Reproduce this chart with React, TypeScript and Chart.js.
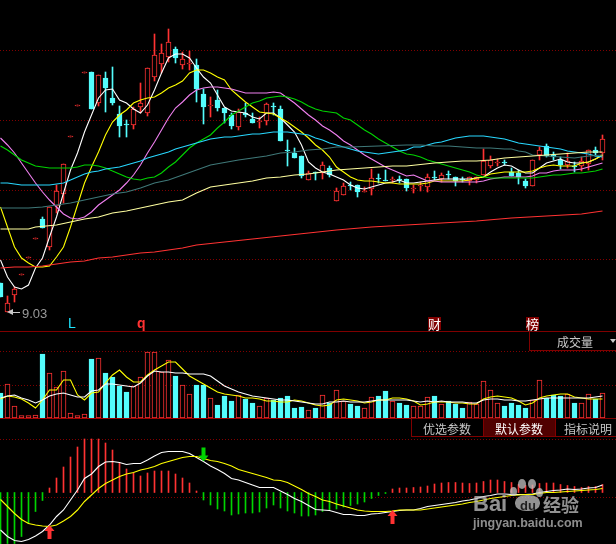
import React, { useEffect, useRef } from "react";
import { Chart, registerables } from "chart.js";
Chart.register(...registerables);

// Candles (price)
const open = [9.32,9.03,9.20,9.40,9.57,9.76,9.96,9.68,10.09,10.21,10.78,11.09,11.42,11.43,11.12,11.37,11.17,11.01,10.91,10.90,11.08,11.02,11.38,11.51,11.58,11.66,11.50,11.51,11.50,11.21,11.09,11.15,11.07,11.00,10.88,11.02,10.96,10.93,10.94,11.09,11.06,10.65,10.62,10.59,10.35,10.43,10.42,10.47,10.14,10.20,10.30,10.30,10.23,10.26,10.37,10.35,10.35,10.36,10.36,10.26,10.29,10.28,10.38,10.36,10.41,10.38,10.36,10.34,10.35,10.40,10.49,10.52,10.53,10.43,10.42,10.34,10.29,10.60,10.69,10.60,10.55,10.50,10.49,10.49,10.51,10.65,10.62];
const close = [9.18,9.12,9.26,9.41,9.58,9.77,9.87,10.08,10.24,10.51,10.79,11.10,11.43,11.06,11.40,11.27,11.12,10.89,10.90,11.06,11.12,11.47,11.60,11.62,11.73,11.57,11.56,11.52,11.26,11.08,11.10,11.07,11.02,10.89,11.03,11.00,10.92,10.94,11.11,11.08,10.74,10.64,10.57,10.39,10.42,10.42,10.50,10.40,10.24,10.29,10.29,10.23,10.24,10.37,10.36,10.34,10.36,10.35,10.27,10.27,10.30,10.38,10.37,10.40,10.40,10.34,10.35,10.38,10.38,10.54,10.55,10.53,10.52,10.39,10.38,10.29,10.55,10.65,10.59,10.58,10.50,10.54,10.48,10.54,10.65,10.62,10.76];
const high = [9.32,9.19,9.28,9.41,9.58,9.77,9.98,10.08,10.30,10.51,10.79,11.10,11.43,11.43,11.40,11.43,11.48,11.09,10.95,11.08,11.32,11.47,11.81,11.71,11.86,11.68,11.63,11.64,11.56,11.26,11.18,11.25,11.07,11.02,11.06,11.12,11.02,10.98,11.12,11.12,11.09,10.75,10.67,10.59,10.44,10.43,10.53,10.49,10.27,10.32,10.33,10.30,10.28,10.46,10.41,10.45,10.38,10.39,10.36,10.30,10.33,10.41,10.44,10.42,10.44,10.38,10.38,10.38,10.38,10.66,10.59,10.56,10.55,10.47,10.45,10.36,10.55,10.68,10.71,10.63,10.58,10.62,10.53,10.58,10.65,10.68,10.80];
const low = [9.18,9.03,9.13,9.40,9.57,9.76,9.87,9.65,10.02,10.12,10.78,11.09,11.42,11.06,11.09,11.03,11.10,10.78,10.78,10.86,11.02,10.99,11.34,11.42,11.53,11.52,11.46,11.45,11.13,10.91,10.98,11.04,10.92,10.86,10.85,10.98,10.92,10.87,10.90,11.00,10.74,10.49,10.57,10.37,10.35,10.35,10.36,10.38,10.14,10.20,10.25,10.18,10.23,10.20,10.32,10.34,10.32,10.32,10.24,10.22,10.24,10.23,10.35,10.33,10.36,10.29,10.33,10.30,10.32,10.40,10.47,10.49,10.50,10.39,10.31,10.27,10.29,10.55,10.58,10.55,10.46,10.47,10.43,10.44,10.45,10.59,10.55];

// Price moving averages
const maWhite = [9.55,9.38,9.28,9.26,9.30,9.47,9.57,9.78,9.98,10.22,10.45,10.62,10.83,11.00,11.17,11.25,11.26,11.15,11.12,11.06,11.02,11.10,11.25,11.42,11.57,11.61,11.61,11.57,11.47,11.38,11.32,11.20,11.08,11.04,11.03,11.02,10.98,10.96,11.02,11.02,10.97,10.90,10.83,10.70,10.53,10.47,10.43,10.41,10.38,10.35,10.30,10.27,10.26,10.28,10.30,10.32,10.33,10.35,10.32,10.32,10.33,10.34,10.35,10.36,10.36,10.36,10.36,10.36,10.37,10.38,10.43,10.47,10.50,10.49,10.45,10.42,10.42,10.47,10.52,10.54,10.56,10.53,10.52,10.52,10.53,10.56,10.60];
const maYellow = [10.08,9.88,9.68,9.57,9.52,9.48,9.48,9.49,9.58,9.68,9.88,10.10,10.32,10.48,10.63,10.80,10.93,11.00,11.05,11.12,11.15,11.17,11.18,11.22,11.27,11.30,11.34,11.42,11.45,11.45,11.42,11.38,11.35,11.25,11.19,11.13,11.08,11.03,11.02,11.01,10.97,10.93,10.88,10.83,10.77,10.70,10.65,10.58,10.48,10.43,10.38,10.35,10.34,10.34,10.33,10.32,10.32,10.31,10.31,10.31,10.31,10.32,10.34,10.34,10.34,10.34,10.34,10.35,10.37,10.38,10.41,10.42,10.43,10.43,10.43,10.43,10.44,10.47,10.49,10.50,10.49,10.49,10.49,10.52,10.53,10.56,10.60];
const maMagenta = [10.77,10.70,10.62,10.52,10.42,10.32,10.23,10.15,10.08,10.01,9.97,9.96,9.98,10.03,10.10,10.15,10.20,10.25,10.32,10.40,10.50,10.62,10.73,10.85,10.97,11.07,11.13,11.20,11.25,11.27,11.28,11.28,11.27,11.26,11.24,11.22,11.22,11.22,11.22,11.23,11.22,11.17,11.12,11.06,11.00,10.95,10.89,10.85,10.80,10.74,10.70,10.65,10.60,10.56,10.52,10.48,10.45,10.42,10.39,10.40,10.37,10.34,10.34,10.33,10.33,10.33,10.33,10.33,10.33,10.34,10.36,10.37,10.38,10.38,10.38,10.38,10.39,10.42,10.42,10.44,10.45,10.45,10.45,10.46,10.48,10.50,10.52];
const maGreen = [10.69,10.65,10.60,10.55,10.52,10.49,10.48,10.47,10.47,10.47,10.47,10.48,10.50,10.50,10.49,10.47,10.44,10.41,10.38,10.36,10.35,10.37,10.38,10.42,10.48,10.53,10.60,10.67,10.72,10.76,10.80,10.87,10.93,11.00,11.04,11.08,11.12,11.14,11.17,11.18,11.19,11.18,11.16,11.13,11.09,11.06,11.04,11.03,11.02,10.97,10.95,10.90,10.85,10.81,10.76,10.72,10.68,10.64,10.61,10.60,10.58,10.55,10.53,10.51,10.49,10.47,10.45,10.43,10.40,10.38,10.37,10.37,10.37,10.37,10.37,10.37,10.37,10.38,10.39,10.40,10.40,10.41,10.42,10.42,10.43,10.44,10.46];
const maCyan = [10.32,10.32,10.31,10.30,10.30,10.30,10.30,10.30,10.31,10.32,10.35,10.38,10.41,10.43,10.44,10.46,10.47,10.48,10.50,10.52,10.54,10.57,10.59,10.61,10.63,10.66,10.68,10.70,10.72,10.74,10.76,10.77,10.78,10.78,10.79,10.80,10.81,10.81,10.82,10.83,10.83,10.83,10.82,10.81,10.80,10.77,10.75,10.72,10.70,10.68,10.66,10.64,10.63,10.62,10.61,10.62,10.63,10.64,10.65,10.68,10.68,10.70,10.72,10.73,10.75,10.77,10.78,10.79,10.79,10.79,10.78,10.77,10.76,10.74,10.72,10.71,10.70,10.69,10.68,10.67,10.66,10.64,10.63,10.62,10.61,10.59,10.58];
const tealIdx = [0,2,4,6,8,10,12,14,16,18,20,22,24,26,28,30,34,38,40,42,44,46,48,50,54,58,60,62,64,66,68,70,72,73,74,75,76,78,80,82,84,86];
const maTeal = [10.07,10.07,10.07,10.08,10.10,10.12,10.15,10.18,10.21,10.23,10.27,10.32,10.35,10.40,10.45,10.50,10.55,10.59,10.62,10.63,10.65,10.66,10.68,10.68,10.69,10.70,10.70,10.69,10.69,10.68,10.67,10.67,10.66,10.66,10.64,10.63,10.60,10.59,10.58,10.57,10.59,10.60];
const paleIdx = [0,4,5,8,10,12,14,16,18,20,22,24,26,28,30,32,34,36,38,40,42,44,46,48,50,52,54,56,58,62,64,66,68,70,72,74,76,78,80,82,84,86];
const maPale = [9.86,9.86,9.88,9.90,9.93,9.96,9.98,10.02,10.04,10.07,10.10,10.13,10.15,10.22,10.28,10.30,10.32,10.34,10.37,10.38,10.40,10.41,10.43,10.45,10.46,10.47,10.48,10.49,10.49,10.52,10.53,10.54,10.54,10.55,10.57,10.58,10.59,10.60,10.61,10.62,10.63,10.63];
const redIdx = [0,2,4,6,8,10,12,14,16,18,20,22,24,26,28,32,36,40,44,48,53,58,63,68,73,78,83,86];
const maRed = [9.47,9.48,9.48,9.49,9.51,9.53,9.54,9.57,9.58,9.60,9.62,9.63,9.65,9.67,9.70,9.73,9.76,9.79,9.82,9.85,9.88,9.90,9.92,9.94,9.97,9.99,10.01,10.04];

// Volume
const volume = [25,34,12,2.3,2.3,3,64,45,31,47,5,2.3,4,59,60,45,41,32,26,32,41,66,66,46,58,42,33,24,33,33,20,13,22,17,23,19,15,12,20,18,20,22,10,11,8,10,23,15,28,17,14,12,10,21,22,27,17,15,13,12,12,21,22,14,17,14,10,16,14,37,28,15,12,15,13,10,18,38,20,23,22,24,15,15,24,19,25];
const volShort = [19,22,21,19,15,10,18,28,28,38,38,23,18,25,26,35,43,48,41,36,36,43,48,52,56,56,49,42,38,34,30,26,24,23,22,20,20,19,17,17,16,16,18,17,15,13,12,13,18,19,18,17,15,16,18,18,20,20,19,17,13,14,16,16,16,15,15,14,14,19,21,22,21,20,17,13,15,20,22,23,24,24,21,20,19,19,19];
const volLong = [20,22,23,20,18,15,18,22,24,25,23,21,21,27,28,34,34,33,32,31,35,42,47,46,46,45,45,44,44,44,42,37,32,29,26,24,22,21,20,19,18,18,17,16,15,14,14,16,16,17,16,16,16,17,18,18,18,18,18,17,16,17,16,17,16,16,16,15,15,18,19,19,18,18,17,17,18,19,20,20,20,20,20,20,20,21,22];

// MACD
const macdHist = [-0.52,-0.51,-0.51,-0.44,-0.31,-0.19,-0.08,0.045,0.145,0.255,0.355,0.455,0.535,0.535,0.535,0.495,0.425,0.295,0.235,0.195,0.165,0.195,0.215,0.215,0.215,0.185,0.145,0.095,0.015,-0.075,-0.125,-0.165,-0.185,-0.225,-0.215,-0.205,-0.205,-0.195,-0.155,-0.125,-0.155,-0.185,-0.205,-0.235,-0.235,-0.225,-0.19,-0.18,-0.165,-0.145,-0.13,-0.115,-0.095,-0.06,-0.03,-0.01,0.035,0.045,0.045,0.05,0.055,0.065,0.085,0.095,0.10,0.10,0.095,0.09,0.095,0.11,0.125,0.125,0.11,0.10,0.08,0.07,0.075,0.09,0.095,0.095,0.08,0.07,0.06,0.05,0.06,0.06,0.08];
const dif = [-0.375,-0.44,-0.48,-0.49,-0.47,-0.435,-0.39,-0.325,-0.24,-0.175,-0.075,0.025,0.14,0.185,0.26,0.305,0.31,0.30,0.28,0.29,0.29,0.325,0.365,0.40,0.41,0.41,0.41,0.39,0.35,0.31,0.265,0.23,0.19,0.14,0.125,0.10,0.075,0.05,0.05,0.05,0.015,-0.02,-0.06,-0.09,-0.13,-0.17,-0.175,-0.18,-0.20,-0.22,-0.22,-0.23,-0.23,-0.215,-0.21,-0.20,-0.19,-0.18,-0.175,-0.175,-0.16,-0.14,-0.13,-0.12,-0.11,-0.10,-0.085,-0.075,-0.06,-0.04,-0.03,-0.015,-0.015,-0.02,-0.02,-0.02,-0.015,0,0.01,0.02,0.025,0.035,0.03,0.035,0.045,0.05,0.075];
const dea = [-0.07,-0.14,-0.21,-0.27,-0.31,-0.325,-0.335,-0.34,-0.325,-0.285,-0.24,-0.175,-0.09,-0.025,0.04,0.09,0.125,0.16,0.185,0.20,0.225,0.24,0.26,0.29,0.31,0.33,0.35,0.36,0.36,0.34,0.32,0.31,0.29,0.265,0.23,0.21,0.19,0.17,0.15,0.125,0.12,0.10,0.065,0.03,-0.01,-0.04,-0.075,-0.09,-0.115,-0.135,-0.155,-0.175,-0.185,-0.19,-0.19,-0.19,-0.185,-0.175,-0.175,-0.175,-0.175,-0.165,-0.155,-0.145,-0.135,-0.125,-0.115,-0.10,-0.09,-0.075,-0.06,-0.05,-0.04,-0.03,-0.025,-0.02,-0.02,-0.01,0,0,0.005,0.01,0.015,0.02,0.025,0.03,0.04];
const signalIdx = [7, 29, 56];
const signalDir = ["up", "down", "up"];
const signalValue = [-0.325, 0.31, -0.175];

const priceTicks = [9.55, 10.25, 10.95, 11.65];
const volTicks = [33, 66];
const macdTicks = [-0.05, 0.53];

const RED = "#ff3232";
const CYAN = "#54fcfc";
const BG = "#000000";
const GRID = "#800000";
const isUp = (i: number) => close[i] >= open[i];
const pts = (vals: number[], idx?: number[]) => vals.map((y, k) => ({ x: idx ? idx[k] : k, y }));

const line = (vals: number[], color: string, yAxisID: string, idx?: number[]) => ({
  type: "line" as const, data: pts(vals, idx), borderColor: color, borderWidth: 1.1,
  pointRadius: 0, tension: 0, yAxisID, xAxisID: "x", order: 1,
});

const arrows = {
  id: "signalArrows",
  afterDatasetsDraw(chart: any) {
    const { ctx, scales } = chart;
    signalIdx.forEach((idx, k) => {
      const x = scales.x.getPixelForValue(idx);
      const tip = scales.m.getPixelForValue(signalValue[k]);
      const s = signalDir[k] === "up" ? 1 : -1;
      ctx.save();
      ctx.fillStyle = s === 1 ? RED : "#00d400";
      ctx.beginPath();
      ctx.moveTo(x, tip);
      ctx.lineTo(x + 5, tip + s * 6);
      ctx.lineTo(x + 2, tip + s * 6);
      ctx.lineTo(x + 2, tip + s * 14);
      ctx.lineTo(x - 2, tip + s * 14);
      ctx.lineTo(x - 2, tip + s * 6);
      ctx.lineTo(x - 5, tip + s * 6);
      ctx.closePath();
      ctx.fill();
      ctx.restore();
    });
  },
};

const hiddenY = (min: number, max: number, ticks: number[]) => ({
  type: "linear" as const, position: "left" as const, min, max,
  afterBuildTicks: (s: any) => { s.ticks = ticks.map((value) => ({ value })); },
  afterFit: (s: any) => { s.width = 0; },
  ticks: { display: false },
  border: { display: false, dash: [1, 2] },
  grid: { color: GRID, lineWidth: 1, drawTicks: false },
});

const CJK = '"Noto Sans CJK SC", sans-serif';
const SANS = '"Liberation Sans", sans-serif';
const WM = "rgba(195,195,195,0.75)";
const label = (x: number, y: number, text: string, style: React.CSSProperties = {}) => (
  <div style={{ position: "absolute", left: x, top: y, whiteSpace: "nowrap", lineHeight: 1, fontFamily: CJK, fontSize: 12, color: "#c8c8c8", ...style }}>{text}</div>
);
const rule = (top: number, color: string, left = 0, width = 616) => (
  <div style={{ position: "absolute", left, top, width, height: 1, background: color }} />
);
const box = (left: number, top: number, width: number, height: number, background = "transparent") => (
  <div style={{ position: "absolute", left, top, width, height, background, border: "1px solid #800000", boxSizing: "border-box" }} />
);

export default function App() {
  const ref = useRef<HTMLCanvasElement>(null);
  useEffect(() => {
    document.documentElement.style.background = BG;
    document.body.style.margin = "0";
    document.body.style.background = BG;
    const idx = open.map((_, i) => i);
    const chart = new Chart(ref.current!, {
      type: "bar",
      data: {
        datasets: [
          { type: "bar", data: idx.map((i) => ({ x: i, y: [low[i], high[i]] })), backgroundColor: idx.map((i) => (isUp(i) ? RED : CYAN)), barThickness: 1, grouped: false, yAxisID: "p", xAxisID: "x", order: 10 },
          { type: "bar", data: idx.map((i) => ({ x: i, y: [Math.min(open[i], close[i]), Math.max(open[i], close[i])] })), backgroundColor: idx.map((i) => (isUp(i) ? BG : CYAN)), borderColor: idx.map((i) => (isUp(i) ? RED : CYAN)), borderWidth: 1, borderSkipped: false, barThickness: 5, grouped: false, yAxisID: "p", xAxisID: "x", order: 9 },
          { type: "bar", data: idx.map((i) => ({ x: i, y: volume[i] })), backgroundColor: idx.map((i) => (isUp(i) ? BG : CYAN)), borderColor: idx.map((i) => (isUp(i) ? RED : CYAN)), borderWidth: 1, borderSkipped: false, barThickness: 5, grouped: false, yAxisID: "v", xAxisID: "x", order: 9 },
          { type: "bar", data: idx.map((i) => ({ x: i, y: macdHist[i] })), backgroundColor: idx.map((i) => (macdHist[i] >= 0 ? RED : "#00d400")), barThickness: 1, grouped: false, yAxisID: "m", xAxisID: "x", order: 9 },
          line(maRed, "#ff3232", "p", redIdx),
          line(maPale, "#ffffa0", "p", paleIdx),
          line(maTeal, "#3f7878", "p", tealIdx),
          line(maCyan, "#28d8ff", "p"),
          line(maGreen, "#00d400", "p"),
          line(maMagenta, "#f080f0", "p"),
          line(maYellow, "#ffff00", "p"),
          line(maWhite, "#ffffff", "p"),
          line(volLong, "#ffffff", "v"),
          line(volShort, "#ffff00", "v"),
          line(dea, "#ffff00", "m"),
          line(dif, "#ffffff", "m"),
        ] as any,
      },
      options: {
        animation: false, responsive: false, devicePixelRatio: 1,
        layout: { padding: 0 },
        plugins: { legend: { display: false }, tooltip: { enabled: false } },
        scales: {
          x: { type: "linear", display: false, offset: false, min: -0.5 / 7, max: 615.5 / 7 },
          p: hiddenY(6.71, 12.15, priceTicks),
          v: hiddenY(-126, 418, volTicks),
          m: hiddenY(-0.515, 4.925, macdTicks),
        },
      } as any,
      plugins: [arrows],
    });
    return () => chart.destroy();
  }, []);

  return (
    <div style={{ position: "relative", width: 616, height: 544, background: BG, overflow: "hidden" }}>
      <canvas ref={ref} width={616} height={544} style={{ position: "absolute", left: 0, top: 0, width: 616, height: 544 }} />
      {rule(331, "#800000")}
      {rule(418, "#a00000")}
      <div style={{ position: "absolute", left: 11, top: 312, width: 9, height: 1, background: "#c8c8c8" }} />
      <div style={{ position: "absolute", left: 7, top: 309, width: 0, height: 0, borderTop: "3.5px solid transparent", borderBottom: "3.5px solid transparent", borderRight: "6px solid #c8c8c8" }} />
      {label(22, 307, "9.03", { fontFamily: SANS, color: "#9a9a9a", fontSize: 13 })}
      {label(68, 316, "L", { fontFamily: SANS, color: "#1ee6ff", fontSize: 14 })}
      {label(137, 316, "q", { fontFamily: SANS, color: "#ff3232", fontSize: 14, fontWeight: 700 })}
      {label(428, 317, "财", { color: "#fff", background: "#800000", fontSize: 13 })}
      {label(526, 317, "榜", { color: "#fff", background: "#800000", fontSize: 13 })}
      {box(529, 331, 90, 20)}
      {label(557, 336, "成交量")}
      <div style={{ position: "absolute", left: 610, top: 339, width: 0, height: 0, borderLeft: "3.5px solid transparent", borderRight: "3.5px solid transparent", borderTop: "4px solid #c8c8c8" }} />
      {box(411, 418, 73, 19)}
      {box(483, 418, 73, 19, "#500000")}
      {box(555, 418, 64, 19)}
      {label(423, 423, "优选参数")}
      {label(495, 423, "默认参数", { color: "#fff" })}
      {label(564, 423, "指标说明")}
      {[[510, 487, 7, 9], [518, 479, 8, 10], [528, 479, 8, 10], [536, 488, 7, 9]].map(([x, y, w, h], k) => (
        <div key={k} style={{ position: "absolute", left: x, top: y, width: w, height: h, borderRadius: "50%", background: WM }} />
      ))}
      <div style={{ position: "absolute", left: 515, top: 495, width: 25, height: 16, borderRadius: "45%", background: WM }} />
      {label(473, 493, "Bai", { fontFamily: SANS, fontSize: 22, fontWeight: 700, color: WM })}
      {label(520, 499, "du", { fontFamily: SANS, fontSize: 13, fontWeight: 700, color: "#202020" })}
      {label(543, 495, "经验", { fontSize: 18, fontWeight: 700, color: WM })}
      {label(473, 517, "jingyan.baidu.com", { fontFamily: SANS, fontSize: 12.5, fontWeight: 700, color: "rgba(195,195,195,0.72)" })}
    </div>
  );
}
